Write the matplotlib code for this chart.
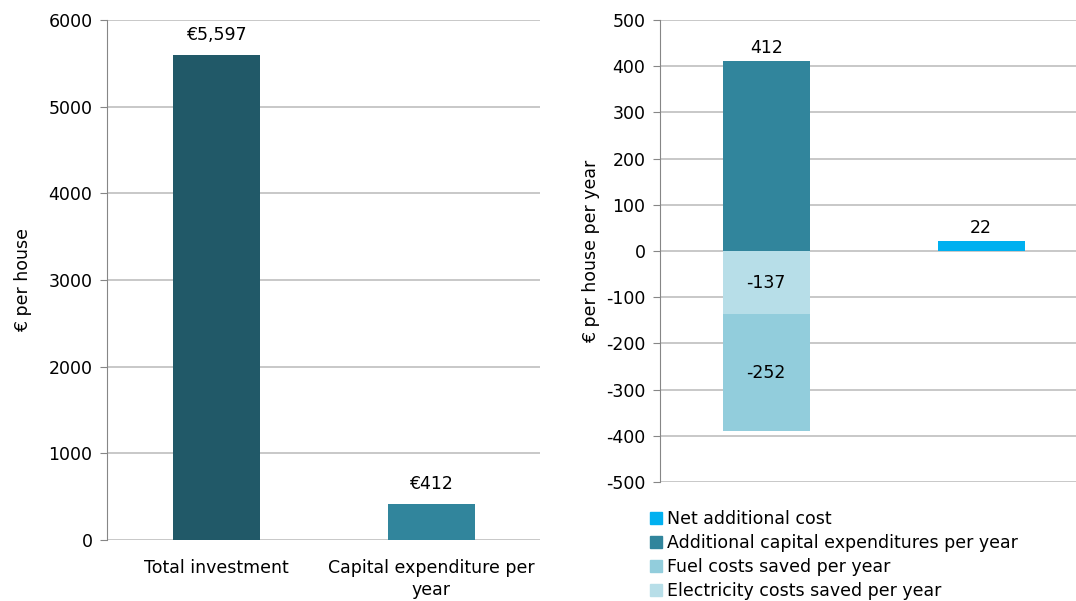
import numpy as np
import matplotlib
matplotlib.use("Agg")
import matplotlib.pyplot as plt
from matplotlib.patches import Patch

plt.rcParams['font.family'] = ['DejaVu Sans']
plt.rcParams['font.size'] = 12.5
plt.rcParams['axes.unicode_minus'] = False

# left panel data
left_cats = ["Total investment", "Capital expenditure per\nyear"]
left_vals = [5597, 412]
left_labels = ["€5,597", "€412"]
left_colors = ["#215968", "#31859C"]

# right panel data
capex = [412, 0]
electricity = [-137, 0]
fuel = [-252, 0]
net = [0, 22]

grid_c = "#BFBFBF"
axis_c = "#868686"
fs = 12.5

fig = plt.figure(figsize=(10.76, 6.01), dpi=100)
ax1 = fig.add_axes([107/1076, 61/601, 433/1076, 520/601])
ax2 = fig.add_axes([660/1076, 119/601, 416/1076, 462/601])

def style(ax):
    for s in ["top", "right", "bottom"]:
        ax.spines[s].set_visible(False)
    ax.spines["left"].set_color(axis_c)
    ax.yaxis.grid(True, color=grid_c, lw=1.2)
    ax.set_axisbelow(True)
    ax.tick_params(axis="y", color=axis_c, length=5, pad=5.5, labelcolor="black", labelsize=fs)
    ax.tick_params(axis="x", length=0)

# left
x1 = np.arange(len(left_cats))
ax1.bar(x1, left_vals, width=0.405, color=left_colors)
for xi, v, t in zip(x1, left_vals, left_labels):
    ax1.text(xi, v + 130, t, ha="center", va="bottom", fontsize=fs)
ax1.set_xlim(-0.509, 1.505)
ax1.set_ylim(0, 6000)
ax1.set_yticks(np.arange(0, 6001, 1000))
ax1.set_xticks(x1)
ax1.set_xticklabels(left_cats, fontsize=fs, linespacing=1.25)
ax1.tick_params(axis="x", pad=14)
style(ax1)
ax1.set_ylabel("€ per house", fontsize=fs, labelpad=12)

# right
x2 = np.arange(2)
ax2.bar(x2, capex, width=0.405, color="#31859C")
ax2.bar(x2, electricity, width=0.405, color="#B7DEE8")
ax2.bar(x2, fuel, width=0.405, bottom=electricity, color="#92CDDC")
ax2.bar(x2, net, width=0.405, color="#00B0F0")
ax2.text(0, capex[0] + 8, str(capex[0]), ha="center", va="bottom", fontsize=fs)
ax2.text(1, net[1] + 8, str(net[1]), ha="center", va="bottom", fontsize=fs)
ax2.text(0, electricity[0] / 2, str(electricity[0]), ha="center", va="center", fontsize=fs)
ax2.text(0, electricity[0] + fuel[0] / 2, str(fuel[0]), ha="center", va="center", fontsize=fs)
ax2.set_xlim(-0.495, 1.442)
ax2.set_ylim(-500, 500)
ax2.set_yticks(np.arange(-500, 501, 100))
ax2.set_xticks([])
style(ax2)
ax2.set_ylabel("€ per house per year", fontsize=fs, labelpad=4)

handles = [Patch(color="#00B0F0", label="Net additional cost"),
           Patch(color="#31859C", label="Additional capital expenditures per year"),
           Patch(color="#92CDDC", label="Fuel costs saved per year"),
           Patch(color="#B7DEE8", label="Electricity costs saved per year")]
fig.legend(handles=handles, loc="upper left", bbox_to_anchor=(650/1076, 1 - 510/601),
           frameon=False, fontsize=fs, handlelength=0.7, handleheight=0.7,
           handletextpad=0.3, labelspacing=0.34, borderaxespad=0, borderpad=0)

fig.savefig("out.png", dpi=100)
